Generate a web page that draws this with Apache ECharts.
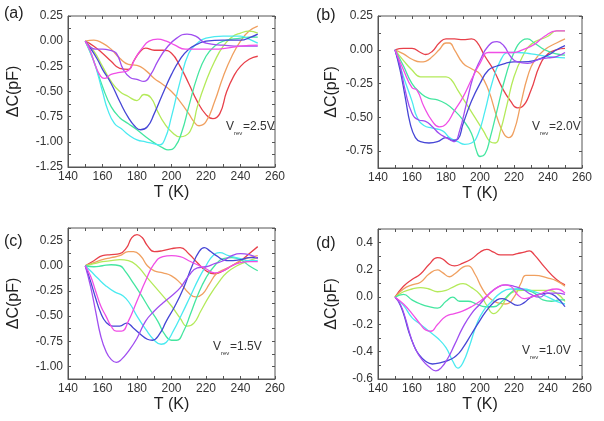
<!DOCTYPE html>
<html><head><meta charset="utf-8">
<script src="https://cdn.jsdelivr.net/npm/echarts@6/dist/echarts.min.js"></script>
<style>html,body{margin:0;padding:0;background:#fff}#c{width:604px;height:421px}</style>
</head><body><div id="c"></div>
<script>
// ---- tick labels ----
const xTicks = [140,160,180,200,220,240,260];
// ---- panel (a) Vrev = 2.5 V ----
const aRed = [[150,0],[155,-0.05],[160,-0.12],[165,-0.2],[170,-0.27],[175,-0.28],[178,-0.2],[182,-0.1],[185,-0.07],[190,-0.09],[195,-0.09],[200,-0.12],[205,-0.25],[210,-0.42],[215,-0.6],[220,-0.73],[224,-0.77],[228,-0.72],[232,-0.5],[236,-0.35],[240,-0.25],[245,-0.18],[250,-0.15]];
const aOrange = [[150,0],[155,0.01],[160,-0.02],[165,-0.08],[170,-0.17],[175,-0.23],[180,-0.24],[185,-0.29],[190,-0.37],[195,-0.43],[200,-0.5],[205,-0.6],[210,-0.72],[213,-0.8],[216,-0.84],[220,-0.8],[225,-0.6],[230,-0.35],[235,-0.15],[240,0.0],[245,0.1],[250,0.15]];
const aYellow = [[150,0],[155,-0.1],[160,-0.25],[165,-0.4],[170,-0.5],[175,-0.55],[180,-0.59],[184,-0.53],[188,-0.56],[192,-0.7],[196,-0.82],[200,-0.9],[205,-0.95],[208,-0.94],[212,-0.85],[215,-0.65],[220,-0.4],[225,-0.2],[230,-0.05],[235,0.04],[240,0.08],[245,0.1],[250,0.08]];
const aGreen = [[150,0],[155,-0.2],[160,-0.45],[165,-0.65],[170,-0.76],[175,-0.82],[180,-0.88],[185,-0.95],[190,-1.01],[195,-1.06],[198,-1.08],[202,-1.05],[206,-0.9],[210,-0.65],[215,-0.35],[220,-0.15],[225,-0.05],[230,0.0],[240,0.03],[245,0.04],[250,0.04]];
const aCyan = [[150,0],[155,-0.2],[160,-0.5],[163,-0.68],[167,-0.82],[171,-0.87],[175,-0.93],[180,-0.98],[185,-1.0],[190,-1.02],[193,-1.03],[196,-0.98],[200,-0.75],[205,-0.4],[210,-0.12],[215,-0.02],[220,0.03],[230,0.05],[240,0.05],[245,0.02],[250,-0.02]];
const aBlue = [[150,0],[153,-0.07],[157,-0.18],[160,-0.28],[165,-0.42],[170,-0.6],[175,-0.76],[179,-0.85],[182,-0.88],[186,-0.85],[190,-0.72],[195,-0.52],[200,-0.33],[205,-0.18],[210,-0.08],[215,-0.03],[220,0.0],[230,0.01],[240,0.01],[246,0.04],[250,0.07]];
const aPurple = [[150,0],[153,-0.06],[156,-0.08],[160,-0.08],[164,-0.09],[168,-0.12],[172,-0.28],[176,-0.36],[180,-0.38],[184,-0.4],[188,-0.33],[192,-0.2],[197,-0.07],[203,0.03],[209,0.07],[214,0.05],[220,-0.02],[230,-0.04],[240,-0.05],[250,-0.05]];
const aMagenta = [[150,0],[153,-0.1],[156,-0.25],[159,-0.35],[161,-0.37],[165,-0.33],[170,-0.31],[175,-0.29],[179,-0.17],[183,-0.07],[187,0.0],[192,0.02],[197,0.0],[202,-0.04],[208,-0.08],[215,-0.08],[225,-0.08],[232,-0.07],[240,-0.05],[250,-0.04]];
// ---- panel (b) Vrev = 2.0 V ----
const bRed = [[150,0],[155,0.01],[160,0.01],[165,-0.02],[168,-0.035],[172,-0.01],[176,0.05],[180,0.08],[185,0.08],[190,0.075],[195,0.08],[198,0.06],[203,-0.05],[208,-0.15],[213,-0.28],[218,-0.38],[222,-0.43],[225,-0.42],[230,-0.3],[235,-0.12],[240,-0.03],[245,0.0],[250,0.01]];
const bOrange = [[150,0],[155,-0.03],[160,-0.07],[165,-0.09],[168,-0.085],[172,-0.05],[176,0.0],[180,0.05],[182,0.05],[185,0.0],[190,-0.1],[195,-0.14],[200,-0.18],[205,-0.3],[210,-0.5],[214,-0.62],[217,-0.65],[220,-0.6],[224,-0.4],[228,-0.2],[232,-0.08],[238,0.0],[245,0.05],[250,0.08]];
const bYellow = [[150,0],[155,-0.08],[160,-0.15],[165,-0.2],[170,-0.2],[175,-0.2],[180,-0.2],[183,-0.22],[187,-0.3],[192,-0.4],[197,-0.5],[202,-0.6],[206,-0.68],[209,-0.69],[212,-0.6],[216,-0.4],[220,-0.2],[225,-0.05],[230,0.04],[240,0.1],[245,0.14],[250,0.14]];
const bGreen = [[150,0],[155,-0.12],[160,-0.25],[165,-0.32],[170,-0.36],[175,-0.37],[180,-0.4],[185,-0.45],[190,-0.52],[195,-0.62],[198,-0.75],[200,-0.79],[203,-0.77],[206,-0.65],[210,-0.45],[215,-0.2],[220,-0.02],[225,0.07],[228,0.08],[232,0.05],[238,0.0],[245,-0.03],[250,-0.04]];
const bCyan = [[150,0],[155,-0.2],[160,-0.38],[163,-0.5],[167,-0.56],[172,-0.58],[178,-0.6],[182,-0.65],[187,-0.68],[191,-0.7],[195,-0.69],[199,-0.62],[203,-0.45],[207,-0.25],[212,-0.08],[217,-0.02],[222,-0.02],[230,-0.03],[240,-0.05],[250,-0.06]];
const bBlue = [[150,0],[153,-0.15],[156,-0.35],[159,-0.55],[162,-0.65],[165,-0.68],[170,-0.69],[175,-0.68],[180,-0.65],[184,-0.67],[187,-0.66],[190,-0.55],[195,-0.38],[200,-0.25],[205,-0.15],[210,-0.12],[215,-0.1],[220,-0.09],[225,-0.09],[232,-0.08],[240,-0.04],[245,0.0],[250,0.03]];
const bPurple = [[150,0],[153,-0.12],[156,-0.3],[160,-0.47],[164,-0.52],[168,-0.53],[172,-0.57],[176,-0.62],[180,-0.65],[183,-0.67],[185,-0.68],[188,-0.6],[192,-0.4],[196,-0.2],[200,-0.08],[205,0.03],[210,0.06],[214,0.03],[218,-0.05],[222,-0.09],[228,-0.1],[235,-0.07],[240,-0.06],[245,-0.05],[250,-0.02]];
const bMagenta = [[150,0],[155,-0.15],[160,-0.28],[163,-0.3],[167,-0.42],[172,-0.53],[176,-0.57],[180,-0.55],[185,-0.45],[190,-0.35],[195,-0.22],[200,-0.1],[205,-0.02],[210,-0.02],[215,-0.02],[220,-0.02],[225,0.0],[232,0.04],[238,0.1],[245,0.14],[250,0.14]];
// ---- panel (c) Vrev = 1.5 V ----
const cRed = [[150,0],[155,0.05],[160,0.1],[165,0.11],[170,0.12],[174,0.18],[177,0.28],[180,0.31],[183,0.28],[186,0.2],[190,0.14],[195,0.15],[200,0.17],[205,0.18],[210,0.12],[215,0.03],[220,-0.05],[225,-0.08],[230,-0.05],[235,0.0],[240,0.05],[245,0.12],[250,0.19]];
const cOrange = [[150,0],[155,0.03],[160,0.06],[165,0.08],[170,0.1],[175,0.14],[178,0.14],[182,0.1],[186,0.0],[190,-0.05],[195,-0.07],[200,-0.1],[205,-0.17],[210,-0.27],[214,-0.31],[218,-0.28],[222,-0.18],[226,-0.08],[230,-0.04],[235,0.0],[240,0.05],[245,0.08],[250,0.1]];
const cYellow = [[150,0],[155,0.02],[160,0.04],[165,0.05],[170,0.06],[175,0.05],[180,0.0],[185,-0.1],[190,-0.2],[195,-0.3],[200,-0.4],[205,-0.52],[209,-0.6],[213,-0.57],[217,-0.45],[222,-0.3],[228,-0.15],[232,-0.07],[238,0.0],[245,0.05],[250,0.08]];
const cGreen = [[150,0],[155,-0.01],[160,0.0],[165,0.01],[170,0.0],[173,-0.05],[177,-0.15],[182,-0.28],[187,-0.42],[192,-0.55],[196,-0.68],[200,-0.74],[203,-0.74],[207,-0.65],[211,-0.48],[215,-0.3],[220,-0.12],[225,0.0],[230,0.07],[235,0.08],[240,0.06],[245,0.0],[250,-0.05]];
const cCyan = [[150,0],[153,-0.05],[157,-0.12],[162,-0.2],[167,-0.26],[172,-0.3],[176,-0.38],[180,-0.5],[185,-0.63],[190,-0.74],[194,-0.78],[197,-0.76],[201,-0.65],[206,-0.48],[211,-0.3],[216,-0.12],[220,0.0],[224,0.1],[228,0.13],[233,0.1],[240,0.07],[245,0.05],[250,0.05]];
const cBlue = [[150,0],[153,-0.15],[156,-0.32],[159,-0.47],[162,-0.56],[166,-0.6],[170,-0.6],[174,-0.57],[178,-0.62],[182,-0.68],[186,-0.73],[189,-0.74],[193,-0.68],[197,-0.55],[202,-0.4],[207,-0.22],[212,0.0],[216,0.14],[219,0.18],[222,0.15],[226,0.1],[232,0.05],[240,0.06],[245,0.08],[250,0.08]];
const cPurple = [[150,0],[153,-0.2],[156,-0.45],[159,-0.7],[162,-0.85],[165,-0.93],[168,-0.96],[171,-0.93],[175,-0.85],[180,-0.72],[185,-0.55],[190,-0.45],[195,-0.37],[200,-0.3],[205,-0.22],[210,-0.1],[215,-0.02],[220,-0.01],[225,0.02],[230,0.05],[235,0.1],[240,0.12],[245,0.11],[250,0.07]];
const cMagenta = [[150,0],[153,-0.1],[156,-0.25],[159,-0.4],[162,-0.5],[165,-0.6],[168,-0.65],[171,-0.65],[175,-0.55],[180,-0.35],[185,-0.15],[190,0.02],[195,0.09],[200,0.1],[205,0.09],[210,0.05],[215,0.01],[220,-0.03],[225,-0.07],[230,-0.05],[235,0.0],[240,0.03],[245,0.04],[250,0.04]];
// ---- panel (d) Vrev = 1.0 V ----
const dRed = [[150,0],[155,0.08],[160,0.13],[165,0.17],[170,0.24],[175,0.29],[178,0.28],[182,0.24],[185,0.23],[190,0.25],[195,0.28],[200,0.33],[204,0.35],[208,0.33],[212,0.31],[218,0.31],[222,0.32],[226,0.33],[229,0.34],[232,0.31],[238,0.22],[245,0.13],[250,0.09]];
const dOrange = [[150,0],[155,0.06],[160,0.09],[165,0.11],[170,0.17],[175,0.2],[178,0.18],[182,0.15],[185,0.17],[190,0.22],[193,0.23],[197,0.17],[201,0.07],[205,0.0],[210,-0.04],[215,-0.05],[220,0.0],[224,0.1],[227,0.16],[232,0.16],[240,0.14],[245,0.12],[250,0.08]];
const dYellow = [[150,0],[155,0.04],[160,0.06],[165,0.07],[170,0.06],[175,0.04],[180,0.05],[185,0.08],[190,0.1],[195,0.07],[200,0.02],[204,-0.06],[208,-0.12],[212,-0.08],[216,0.0],[220,0.04],[225,0.05],[230,0.05],[235,0.05],[240,0.05],[245,0.03],[250,-0.03]];
const dGreen = [[150,0],[155,0.02],[160,-0.02],[165,-0.05],[170,-0.07],[175,-0.08],[180,-0.03],[184,0.0],[188,-0.03],[193,-0.03],[198,-0.05],[203,-0.07],[208,-0.07],[213,-0.03],[218,0.03],[222,0.06],[227,0.05],[232,0.03],[237,-0.02],[242,-0.03],[247,-0.02],[250,-0.02]];
const dCyan = [[150,0],[155,-0.06],[160,-0.15],[165,-0.2],[170,-0.25],[175,-0.3],[180,-0.37],[184,-0.47],[187,-0.52],[190,-0.48],[194,-0.35],[198,-0.2],[202,-0.1],[207,-0.03],[212,0.03],[218,0.06],[225,0.06],[232,0.04],[240,0.0],[245,-0.03],[250,-0.05]];
const dBlue = [[150,0],[152,-0.03],[155,-0.12],[158,-0.25],[161,-0.35],[164,-0.42],[168,-0.47],[172,-0.49],[177,-0.48],[182,-0.46],[186,-0.43],[190,-0.37],[195,-0.27],[200,-0.17],[205,-0.08],[210,-0.02],[213,-0.01],[217,-0.03],[222,-0.06],[226,-0.04],[230,0.0],[235,0.02],[240,0.03],[245,0.0],[250,-0.07]];
const dPurple = [[150,0],[153,-0.05],[156,-0.15],[159,-0.28],[162,-0.38],[166,-0.46],[170,-0.51],[174,-0.54],[177,-0.52],[181,-0.45],[185,-0.35],[190,-0.22],[195,-0.12],[200,-0.05],[205,0.02],[210,0.07],[215,0.09],[220,0.08],[225,0.06],[230,0.02],[235,0.0],[240,0.03],[245,0.03],[250,0.02]];
const dMagenta = [[150,0],[155,-0.05],[160,-0.12],[165,-0.2],[168,-0.24],[171,-0.25],[175,-0.2],[180,-0.14],[185,-0.12],[190,-0.1],[195,-0.07],[200,-0.03],[205,0.02],[210,0.07],[214,0.09],[218,0.08],[222,0.02],[226,-0.01],[230,0.0],[235,0.02],[240,0.05],[245,0.06],[250,0.03]];

const colors = ['#e8404a','#f0a060','#b4ea5a','#44e6a0','#4aeaf0','#4646d6','#a04ef0','#f04ee6'];
const FONT = '"Liberation Sans", Arial, sans-serif';

const panels = [
  {grid:{left:68,top:16,width:207,height:151}, ymin:-1.25, ymax:0.25, yint:0.125, step:0.25, dec:2, gapY:46,
   data:[aRed,aOrange,aYellow,aGreen,aCyan,aBlue,aPurple,aMagenta], tag:'(a)', tagXY:[4,15], v:'=2.5V', vXY:[226,128]},
  {grid:{left:378,top:16,width:204,height:152}, ymin:-0.875, ymax:0.25, yint:0.125, step:0.25, dec:2, gapY:38,
   data:[bRed,bOrange,bYellow,bGreen,bCyan,bBlue,bPurple,bMagenta], tag:'(b)', tagXY:[316,17], v:'=2.0V', vXY:[532,128]},
  {grid:{left:68,top:228,width:207,height:151}, ymin:-1.125, ymax:0.375, yint:0.125, step:0.25, dec:2, gapY:46,
   data:[cRed,cOrange,cYellow,cGreen,cCyan,cBlue,cPurple,cMagenta], tag:'(c)', tagXY:[4,243], v:'=1.5V', vXY:[213,348]},
  {grid:{left:378,top:229,width:204,height:150}, ymin:-0.6, ymax:0.5, yint:0.1, step:0.2, dec:1, gapY:38,
   data:[dRed,dOrange,dYellow,dGreen,dCyan,dBlue,dPurple,dMagenta], tag:'(d)', tagXY:[316,245], v:'=1.0V', vXY:[522,352]}
];

const axisCol = '#555';
const grid = [], xAxis = [], yAxis = [], series = [], graphic = [];
panels.forEach((p, i) => {
  grid.push(Object.assign({show:true, borderColor:axisCol, borderWidth:1, backgroundColor:'#fff'}, p.grid));
  const yFmt = v => {
    const r = v / p.step;
    if (Math.abs(r - Math.round(r)) > 1e-6) return '';
    if (Math.abs(v) < 1e-9) v = 0;
    return v.toFixed(p.dec);
  };
  xAxis.push({type:'value', gridIndex:i, min:140, max:260, interval:10, position:'bottom',
    axisLine:{onZero:false, lineStyle:{color:axisCol}}, axisTick:{inside:true, length:3, lineStyle:{color:axisCol}},
    axisLabel:{formatter:v => xTicks.indexOf(v) >= 0 ? String(v) : '', color:'#333', fontSize:12, margin:4, fontFamily:FONT},
    splitLine:{show:false}, name:'T (K)', nameLocation:'middle', nameGap:18,
    nameTextStyle:{fontSize:16, color:'#222', fontFamily:FONT}});
  yAxis.push({type:'value', gridIndex:i, min:p.ymin, max:p.ymax, interval:p.yint, position:'left',
    axisLine:{onZero:false, lineStyle:{color:axisCol}}, axisTick:{inside:true, length:3, lineStyle:{color:axisCol}},
    axisLabel:{formatter:yFmt, color:'#333', fontSize:12, margin:5, fontFamily:FONT},
    splitLine:{show:false}, name:'\u0394C(pF)', nameLocation:'middle', nameGap:p.gapY,
    nameTextStyle:{fontSize:16, color:'#222', fontFamily:FONT}});
  p.data.forEach((d, k) => {
    series.push({type:'line', xAxisIndex:i, yAxisIndex:i, data:d, showSymbol:false, smooth:0.5,
      silent:true, color:colors[k], lineStyle:{width:1.3, color:colors[k]}});
  });
  graphic.push({type:'text', left:p.tagXY[0], top:p.tagXY[1]-9, style:{text:p.tag, fill:'#222', font:'16px ' + FONT}});
  graphic.push({type:'text', left:p.vXY[0], top:p.vXY[1]-7, style:{text:'V', fill:'#333', font:'12px ' + FONT}});
  graphic.push({type:'text', left:p.vXY[0]+8, top:p.vXY[1]+2, style:{text:'rev', fill:'#333', font:'6px ' + FONT}});
  graphic.push({type:'text', left:p.vXY[0]+17, top:p.vXY[1]-7, style:{text:p.v, fill:'#333', font:'12px ' + FONT}});
});
// mirrored axes (top / right) with inward ticks only
panels.forEach((p, i) => {
  xAxis.push({type:'value', gridIndex:i, min:140, max:260, interval:10, position:'top',
    axisLine:{show:false, onZero:false}, axisTick:{inside:true, length:3, lineStyle:{color:axisCol}}, axisLabel:{show:false}, splitLine:{show:false}});
  yAxis.push({type:'value', gridIndex:i, min:p.ymin, max:p.ymax, interval:p.yint, position:'right',
    axisLine:{show:false, onZero:false}, axisTick:{inside:true, length:3, lineStyle:{color:axisCol}}, axisLabel:{show:false}, splitLine:{show:false}});
});

const chart = echarts.init(document.getElementById('c'), null, {renderer:'canvas'});
chart.setOption({animation:false, backgroundColor:'#fff', grid, xAxis, yAxis, series, graphic});
</script>
</body></html>
